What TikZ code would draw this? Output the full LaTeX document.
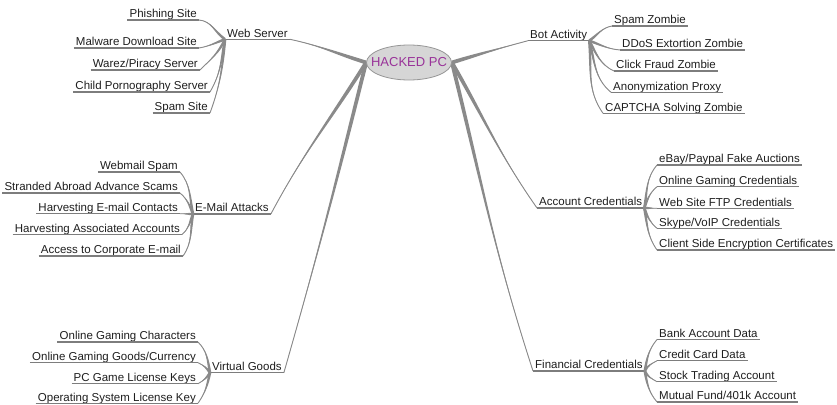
\documentclass[tikz,border=0pt]{standalone}
\usepackage{fontspec}
\setmainfont{Liberation Sans}
\usetikzlibrary{calc,shapes.geometric,backgrounds}
\definecolor{lnc}{RGB}{138,138,138}
\definecolor{ulc}{RGB}{125,125,125}
\definecolor{hubtxt}{RGB}{153,51,153}
\definecolor{hubfill}{RGB}{214,214,214}
\definecolor{hubdraw}{RGB}{150,150,150}
\definecolor{txt}{RGB}{30,30,30}
\tikzset{
  lbl/.style={font=\fontsize{11.5}{13}\selectfont, text=txt, inner xsep=2pt, inner ysep=2pt, text height=8.3pt, text depth=0pt},
  uline/.style={draw=ulc, line width=1.2pt},
  conn/.style={fill=lnc},
  connl/.style={draw=lnc, line width=0.9pt},
  hubnode/.style={ellipse, fill=hubfill, draw=hubdraw, line width=0.8pt, minimum width=85pt, minimum height=35pt, inner sep=0pt, text=hubtxt, font=\fontsize{13}{15}\selectfont}
}
% from, to, out angle, in angle, half width at start
\newcommand{\taperlink}[5]{%
  \fill[conn] ($(#1)+(#3+90:#5)$) to[out=#3,in=#4] (#2) to[out=#4,in=#3] ($(#1)+(#3-90:#5)$) -- cycle;
  \draw[connl] (#1) to[out=#3,in=#4] (#2);
}
\begin{document}
\begin{tikzpicture}[x=1pt,y=1pt]
\useasboundingbox (0,0) rectangle (837,-404);

\node[hubnode] (C) at (409,-62.5) {\makebox[0pt]{HACKED PC}};

% main topics
\node[lbl, anchor=south west] (ws) at (225,-39.3) {Web Server};
\node[lbl, anchor=south west] (em) at (193,-214) {E-Mail Attacks};
\node[lbl, anchor=south west] (vg) at (210,-372.7) {Virtual Goods};
\node[lbl, anchor=south west] (ba) at (528,-40.7) {Bot Activity};
\node[lbl, anchor=south west] (ac) at (537,-208) {Account Credentials};
\node[lbl, anchor=south west] (fc) at (533,-371) {Financial Credentials};

\begin{scope}[on background layer]
\taperlink{C.west}{ws.south east}{163}{-12}{1.9}
\taperlink{C.west}{em.south east}{238}{62}{1.9}
\taperlink{C.west}{vg.south east}{256}{74}{1.9}
\taperlink{C.east}{ba.south west}{17}{195}{1.9}
\taperlink{C.east}{ac.south west}{-60}{125}{1.9}
\taperlink{C.east}{fc.south west}{-76}{108}{1.9}
\end{scope}

% web server leaves
\node[lbl, anchor=south east] (ph) at (199,-20) {Phishing Site};
\node[lbl, anchor=south east] (mw) at (199,-48) {Malware Download Site};
\node[lbl, anchor=south east] (wz) at (200,-70) {Warez/Piracy Server};
\node[lbl, anchor=south east] (cp) at (210,-92) {Child Pornography Server};
\node[lbl, anchor=south east] (ss) at (210,-113) {Spam Site};

% bot activity leaves
\node[lbl, anchor=south west] (sz) at (612,-26) {Spam Zombie};
\node[lbl, anchor=south west] (dd) at (620,-50) {DDoS Extortion Zombie};
\node[lbl, anchor=south west] (cf) at (614,-71) {Click Fraud Zombie};
\node[lbl, anchor=south west] (ap) at (611,-92.3) {Anonymization Proxy};
\node[lbl, anchor=south west] (cs) at (603,-113.3) {CAPTCHA Solving Zombie};

% e-mail leaves
\node[lbl, anchor=south east] (wm) at (180,-172) {Webmail Spam};
\node[lbl, anchor=south east] (sa) at (180,-193) {Stranded Abroad Advance Scams};
\node[lbl, anchor=south east] (hc) at (180,-213.7) {Harvesting E-mail Contacts};
\node[lbl, anchor=south east] (ha) at (182,-234.5) {Harvesting Associated Accounts};
\node[lbl, anchor=south east] (ace) at (183,-256) {Access to Corporate E-mail};

% account credentials leaves
\node[lbl, anchor=south west] (eb) at (657,-165) {eBay/Paypal Fake Auctions};
\node[lbl, anchor=south west] (og) at (657,-186.7) {Online Gaming Credentials};
\node[lbl, anchor=south west] (ftp) at (657,-208.3) {Web Site FTP Credentials};
\node[lbl, anchor=south west] (sk) at (657,-228.3) {Skype/VoIP Credentials};
\node[lbl, anchor=south west] (cl) at (657,-250) {Client Side Encryption Certificates};

% virtual goods leaves
\node[lbl, anchor=south east] (ogc) at (198,-342) {Online Gaming Characters};
\node[lbl, anchor=south east] (ogg) at (198,-362.7) {Online Gaming Goods/Currency};
\node[lbl, anchor=south east] (pck) at (198,-383.7) {PC Game License Keys};
\node[lbl, anchor=south east] (osk) at (198,-403.2) {Operating System License Key};

% financial leaves
\node[lbl, anchor=south west] (bk) at (657,-339.5) {Bank Account Data};
\node[lbl, anchor=south west] (cc) at (657,-360.7) {Credit Card Data};
\node[lbl, anchor=south west] (st) at (657,-381.7) {Stock Trading Account};
\node[lbl, anchor=south west] (mf) at (657,-402) {Mutual Fund/401k Account};

% underlines
\foreach \n in {ws,em,vg,ba,ac,fc,ph,mw,wz,cp,ss,sz,dd,cf,ap,cs,wm,sa,hc,ha,ace,eb,og,ftp,sk,cl,ogc,ogg,pck,osk,bk,cc,st,mf}
  \draw[uline] (\n.south west) -- (\n.south east);

% web server children
\taperlink{ws.south west}{ph.south east}{145}{-5}{1.3}
\taperlink{ws.south west}{mw.south east}{200}{10}{1.3}
\taperlink{ws.south west}{wz.south east}{245}{45}{1.3}
\taperlink{ws.south west}{cp.south east}{260}{60}{1.3}
\taperlink{ws.south west}{ss.south east}{265}{70}{1.3}

% bot activity children
\taperlink{ba.south east}{sz.south west}{35}{190}{1.3}
\taperlink{ba.south east}{dd.south west}{-20}{175}{1.3}
\taperlink{ba.south east}{cf.south west}{-62}{155}{1.3}
\taperlink{ba.south east}{ap.south west}{-75}{140}{1.3}
\taperlink{ba.south east}{cs.south west}{-85}{125}{1.3}

% e-mail children
\taperlink{em.south west}{wm.south east}{102}{-50}{1.3}
\taperlink{em.south west}{sa.south east}{112}{-40}{1.3}
\taperlink{em.south west}{hc.south east}{180}{0}{1.3}
\taperlink{em.south west}{ha.south east}{248}{40}{1.3}
\taperlink{em.south west}{ace.south east}{260}{55}{1.3}

% account credentials children
\taperlink{ac.south east}{eb.south west}{80}{230}{1.3}
\taperlink{ac.south east}{og.south west}{70}{220}{1.3}
\taperlink{ac.south east}{ftp.south west}{0}{180}{1.3}
\taperlink{ac.south east}{sk.south west}{-70}{140}{1.3}
\taperlink{ac.south east}{cl.south west}{-80}{125}{1.3}

% virtual goods children
\taperlink{vg.south west}{ogc.south east}{100}{-45}{1.3}
\taperlink{vg.south west}{ogg.south east}{125}{-25}{1.3}
\taperlink{vg.south west}{pck.south east}{238}{30}{1.3}
\taperlink{vg.south west}{osk.south east}{258}{55}{1.3}

% financial children
\taperlink{fc.south east}{bk.south west}{80}{230}{1.3}
\taperlink{fc.south east}{cc.south west}{65}{210}{1.3}
\taperlink{fc.south east}{st.south west}{-65}{150}{1.3}
\taperlink{fc.south east}{mf.south west}{-80}{130}{1.3}

\end{tikzpicture}
\end{document}
